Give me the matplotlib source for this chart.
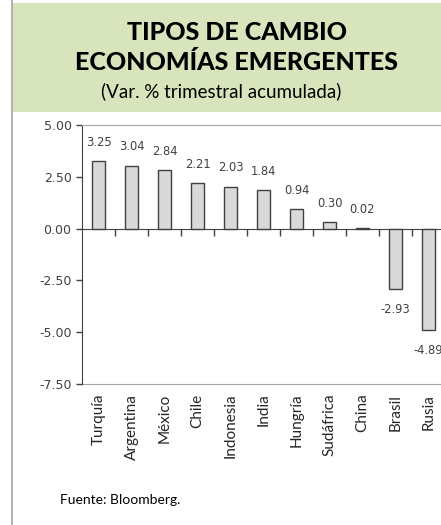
import matplotlib
matplotlib.use("Agg")
import matplotlib.pyplot as plt
from matplotlib.patches import Rectangle
from matplotlib.lines import Line2D

# Data
paises = ['Turquía', 'Argentina', 'México', 'Chile', 'Indonesia', 'India',
          'Hungría', 'Sudáfrica', 'China', 'Brasil', 'Rusia']
variacion = [3.25, 3.04, 2.84, 2.21, 2.03, 1.84, 0.94, 0.30, 0.02, -2.93, -4.89]
y_ticks = [5.0, 2.5, 0.0, -2.5, -5.0, -7.5]

txt_color = '#404040'

fig = plt.figure(figsize=(4.41, 5.25), dpi=100)

# header band and left border
fig.patches.append(Rectangle((12 / 441, 1 - 112 / 525), 1, 109 / 525,
                             transform=fig.transFigure, facecolor='#d8e4bc',
                             edgecolor='none', zorder=0))
fig.lines.append(Line2D([12 / 441, 12 / 441], [0, 1], transform=fig.transFigure,
                        color='#a6a6a6', lw=1.2))

fig.text(0.537, 1 - 33 / 525, 'TIPOS DE CAMBIO', ha='center', va='center',
         fontsize=18, fontweight='black', family='Lato', color='black')
fig.text(0.537, 1 - 62 / 525, 'ECONOMÍAS EMERGENTES', ha='center', va='center',
         fontsize=18, fontweight='black', family='Lato', color='black')
fig.text(0.502, 1 - 91 / 525, '(Var. % trimestral acumulada)', ha='center',
         va='center', fontsize=13.5, family='Lato', color='black')
fig.text(60 / 441, 1 - 500 / 525, 'Fuente: Bloomberg.', ha='left', va='center',
         fontsize=10, family='Lato', color='black')

ax = fig.add_axes([82 / 441, 1 - 384 / 525, 363 / 441, 259 / 525])
x = list(range(len(paises)))
ax.bar(x, variacion, width=0.41, color='#d9d9d9', edgecolor='#404040',
       linewidth=1.0, zorder=3)

for xi, v in zip(x, variacion):
    off = 13.5 if v >= 0 else -14.5
    ax.annotate(f'{v:.2f}', (xi, v), xytext=(0, off), textcoords='offset points',
                ha='center', va='center', fontsize=8.3, color=txt_color,
                annotation_clip=False)

ax.set_xlim(-0.5, len(paises) - 0.5)
ax.set_ylim(-7.5, 5.0)
ax.set_yticks(y_ticks)
ax.set_yticklabels([f'{t:.2f}' for t in y_ticks])
ax.tick_params(axis='y', direction='out', length=4, color=txt_color,
               labelsize=9, labelcolor=txt_color, width=1)

# zero axis with ticks between categories
ax.spines['bottom'].set_position(('data', 0))
ax.spines['bottom'].set_color(txt_color)
ax.set_xticks([i + 0.5 for i in range(len(paises) - 1)])
ax.set_xticklabels([])
ax.tick_params(axis='x', direction='out', length=5, color=txt_color, width=1)

ax.spines['left'].set_color(txt_color)
ax.spines['top'].set_color('#a6a6a6')
ax.spines['right'].set_visible(False)

sec = ax.secondary_xaxis('bottom')
sec.set_xticks(x)
sec.set_xticklabels(paises, rotation=90, fontsize=11, family='Lato',
                    color='#262626')
sec.tick_params(length=0, pad=7)
sec.spines['bottom'].set_color('#a6a6a6')

fig.savefig('out.png', dpi=100)
